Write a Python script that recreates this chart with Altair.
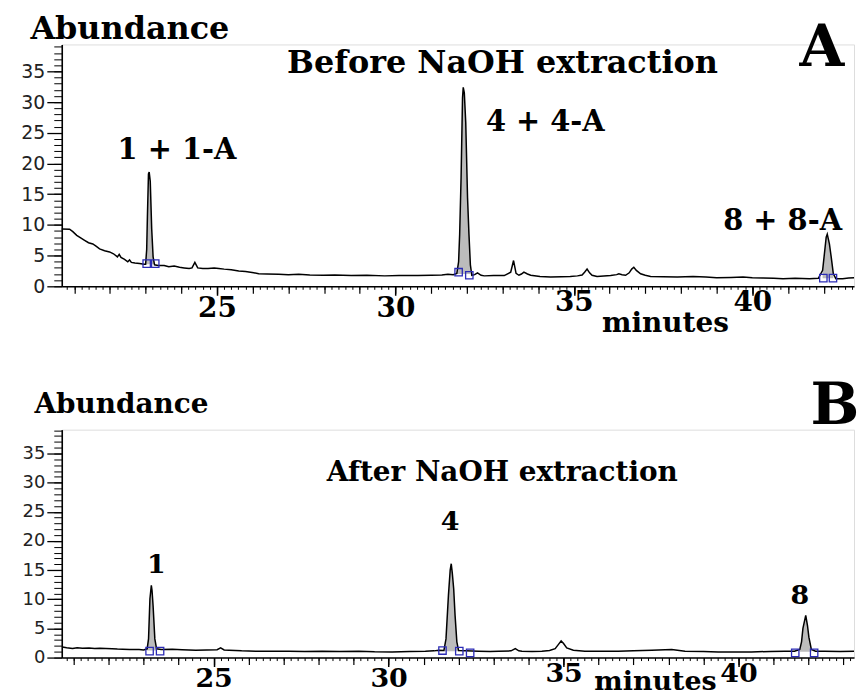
import altair as alt
import pandas as pd

# ---------------- Panel A : Before NaOH extraction ----------------
A_T = [20.65, 20.87, 20.96, 21.07, 21.18, 21.29, 21.40, 21.52, 21.62, 21.71, 21.85, 21.99,
       22.10, 22.21, 22.26, 22.31, 22.41, 22.50, 22.55, 22.60, 22.70, 22.83, 22.96,
       23.00, 23.03, 23.05, 23.08, 23.10, 23.13, 23.17, 23.21, 23.25,
       23.35, 23.52, 23.65, 23.80, 23.95, 24.08, 24.22, 24.30, 24.38, 24.46, 24.60, 24.75,
       24.92, 25.05, 25.20, 25.40, 25.61, 25.80, 26.03, 26.17, 26.40, 26.73, 27.00, 27.29,
       27.60, 27.98, 28.30, 28.76, 29.20, 29.70, 30.10, 30.63, 31.00, 31.30, 31.47, 31.62,
       31.72, 31.77, 31.80, 31.84, 31.88, 31.90, 31.93, 31.97, 32.02, 32.06, 32.10, 32.14,
       32.22, 32.30, 32.40, 32.49, 32.75, 33.05, 33.23, 33.31, 33.38, 33.46, 33.53, 33.60,
       33.70, 33.79, 34.05, 34.35, 34.65, 34.90, 35.10, 35.23, 35.30, 35.37, 35.44, 35.51,
       35.65, 36.03, 36.20, 36.26, 36.35, 36.45, 36.55, 36.62, 36.68, 36.75, 36.87, 37.00,
       37.15, 37.50, 37.90, 38.34, 38.70, 39.00, 39.40, 39.74, 40.00, 40.30, 40.60, 40.86,
       41.20, 41.60, 41.85, 41.97, 42.02, 42.07, 42.10, 42.16, 42.21, 42.27, 42.34,
       42.53, 42.70, 42.85]
A_V = [9.35, 9.3, 8.9, 8.3, 7.9, 7.5, 7.1, 6.9, 6.5, 6.1, 5.8, 5.6,
       5.3, 4.8, 5.2, 4.7, 4.4, 4.0, 4.3, 3.9, 3.8, 3.7, 3.6,
       3.6, 6.0, 11.3, 18.3, 18.6, 17.1, 9.4, 4.8, 3.5,
       3.4, 3.4, 3.2, 3.3, 3.1, 3.0, 2.9, 3.0, 3.9, 3.0, 2.9, 2.9,
       3.0, 2.9, 2.8, 2.7, 2.5, 2.4, 2.2, 2.05, 2.0, 1.95, 1.9, 1.95,
       1.85, 1.8, 1.85, 1.75, 1.8, 1.7, 1.75, 1.75, 1.8, 1.85, 1.95, 1.9,
       2.1, 4.0, 8.5, 17.8, 30.7, 32.4, 31.5, 26.7, 14.5, 8.5, 3.5, 1.8,
       1.9, 2.2, 1.8, 1.7, 1.75, 1.75, 2.3, 4.2, 2.1, 1.8, 2.0, 2.3,
       2.0, 1.8, 1.6, 1.5, 1.55, 1.6, 1.7, 1.85, 2.3, 2.8, 2.2, 1.8,
       1.6, 1.75, 1.9, 2.05, 1.9, 1.8, 2.2, 2.8, 3.1, 2.6, 2.05, 1.8,
       1.6, 1.55, 1.5, 1.6, 1.5, 1.4, 1.45, 1.5, 1.4, 1.35, 1.3, 1.25,
       1.3, 1.25, 1.3, 2.6, 5.3, 8.0, 8.5, 6.9, 4.8, 2.05, 1.25,
       1.25, 1.35, 1.4]
A_PEAK_START = [22.98, 31.70, 41.95]
A_PEAK_END = [23.27, 32.12, 42.30]
A_PEAK_BASE = [3.6, 2.0, 1.3]
A_MARK_T = [23.03, 23.27, 31.77, 32.07, 41.99, 42.26]
A_MARK_V = [3.7, 3.7, 2.3, 1.8, 1.33, 1.33]
A_LABELS = ["1 + 1-A", "4 + 4-A", "8 + 8-A"]
A_LABEL_T = [23.88, 34.2, 40.85]
A_LABEL_V = [22.2, 26.8, 10.6]

# ---------------- Panel B : After NaOH extraction ----------------
B_T = [20.68, 20.80, 20.97, 21.10, 21.25, 21.44, 21.60, 21.75, 21.92, 22.10, 22.25, 22.40,
       22.60, 22.87, 23.00,
       23.10, 23.14, 23.18, 23.22, 23.24, 23.27, 23.32, 23.37,
       23.50, 23.82, 24.10, 24.49, 24.80, 25.10, 25.20, 25.30, 25.44, 25.80, 26.20, 26.60,
       27.15, 27.60, 28.10, 28.60, 29.15, 29.60, 30.10, 30.60, 31.05, 31.30, 31.43,
       31.58, 31.64, 31.71, 31.76, 31.79, 31.82, 31.86, 31.90, 31.95, 32.00,
       32.20, 32.57, 32.90, 33.14, 33.50, 33.62, 33.72, 33.81, 34.10, 34.38, 34.60, 34.76,
       34.86, 34.93, 35.00, 35.09, 35.28, 35.61, 36.18, 36.56, 37.00, 37.52, 38.09, 38.47,
       39.00, 39.42, 40.37, 40.90, 41.32, 41.60,
       41.75, 41.80, 41.84, 41.92, 41.97, 42.01, 42.08,
       42.20, 42.46, 42.90, 43.30]
B_V = [1.83, 1.7, 1.55, 1.7, 1.6, 1.66, 1.55, 1.6, 1.54, 1.5, 1.45, 1.43,
       1.4, 1.37, 1.3,
       1.5, 3.2, 10.1, 12.4, 11.5, 8.9, 3.2, 1.5,
       1.4, 1.43, 1.35, 1.26, 1.3, 1.35, 1.66, 1.3, 1.26, 1.15, 1.09, 1.1,
       1.09, 1.05, 1.09, 1.05, 1.09, 1.0, 0.97, 1.05, 1.09, 1.15, 1.26,
       1.2, 3.2, 10.7, 15.0, 16.1, 14.5, 11.8, 7.2, 2.7, 1.2,
       1.15, 1.09, 1.05, 1.09, 1.15, 1.54, 1.15, 1.09, 1.05, 1.09, 1.2, 1.54,
       2.3, 2.85, 2.4, 1.66, 1.26, 1.09, 1.09, 1.09, 1.15, 1.26, 1.37, 1.09,
       1.05, 0.97, 0.97, 1.05, 1.09, 1.1,
       1.4, 2.7, 5.0, 7.25, 5.5, 3.5, 1.4,
       1.1, 1.09, 1.05, 1.09]
B_PEAK_START = [23.10, 31.56, 41.72]
B_PEAK_END = [23.40, 32.02, 42.10]
B_PEAK_BASE = [1.2, 1.1, 1.0]
B_MARK_T = [23.17, 23.47, 31.54, 32.02, 32.33, 41.62, 42.16]
B_MARK_V = [1.1, 1.1, 1.2, 1.1, 0.8, 0.8, 0.8]
B_LABELS = ["1", "4", "8"]
B_LABEL_T = [23.36, 31.76, 41.75]
B_LABEL_V = [15.9, 23.2, 10.5]

# ---------------- axis tick positions ----------------
X_LABELS_LOW = [25, 30]
X_LABELS_HIGH = [35, 40]
Y_LABELS = [0, 5, 10, 15, 20, 25, 30, 35]

SERIF = "DejaVu Serif"
SANS = "DejaVu Sans"
BLACK = "#000000"


def panel(T, V, pstart, pend, pbase, mt, mv, labs, lt, lv, lab_size,
          title, title_t, title_v, title_size, letter, letter_t, letter_v, letter_size,
          xdom, ydom, w, h, x_lab_size, y_lab_size, abund_size, abund_x, abund_y,
          min_x, min_y, min_size, low_pad, high_pad):
    trace = pd.DataFrame({"t": T, "v": V})
    parts = []
    for i, (s, e, b) in enumerate(zip(pstart, pend, pbase)):
        sub = trace[(trace.t >= s) & (trace.t <= e)].copy()
        sub["base"] = b
        sub["peak"] = i
        parts.append(sub)
    fill = pd.concat(parts)
    marks = pd.DataFrame({"t": mt, "v": mv})
    labels = pd.DataFrame({"t": lt, "v": lv, "txt": labs})
    ttl = pd.DataFrame({"t": [title_t], "v": [title_v], "txt": [title]})
    let = pd.DataFrame({"t": [letter_t], "v": [letter_v], "txt": [letter]})

    xs = alt.Scale(domain=xdom, nice=False, zero=False)
    ys = alt.Scale(domain=ydom, nice=False, zero=False)
    x_mid = [v for v in range(21, 44) if v <= xdom[1]]
    x_minor = [round(20.8 + 0.2 * i, 1) for i in range(200) if 20.8 + 0.2 * i <= xdom[1]]
    y_minor = [v for v in range(0, 40) if v <= ydom[1]]

    ax_x_main = alt.Axis(values=X_LABELS_LOW, tickSize=9, tickWidth=1.5, tickColor=BLACK,
                         domain=True, domainColor=BLACK, domainWidth=1.6,
                         labelFont=SERIF, labelFontWeight="bold", labelFontSize=x_lab_size,
                         labelColor=BLACK, labelPadding=low_pad, grid=False,
                         title="minutes", titleFont=SERIF, titleFontWeight="bold",
                         titleFontSize=min_size, titleColor=BLACK, titleX=min_x, titleY=min_y,
                         titleBaseline="alphabetic", titleAlign="center", orient="bottom")
    ax_x_high = alt.Axis(values=X_LABELS_HIGH, tickSize=9, tickWidth=1.5, tickColor=BLACK,
                         domain=False, labelFont=SERIF, labelFontWeight="bold",
                         labelFontSize=x_lab_size, labelColor=BLACK, labelPadding=high_pad,
                         grid=False, title=None, orient="bottom")
    ax_x_mid = alt.Axis(values=x_mid, tickSize=7, tickWidth=1.2, tickColor=BLACK,
                        domain=False, labels=False, grid=False, title=None, orient="bottom")
    ax_x_minor = alt.Axis(values=x_minor, tickSize=3, tickWidth=1, tickColor=BLACK,
                          domain=False, labels=False, grid=False, title=None, orient="bottom")
    ax_y_main = alt.Axis(values=Y_LABELS, tickSize=15, tickWidth=1.3, tickColor=BLACK,
                         domain=True, domainColor=BLACK, domainWidth=1.6,
                         labelFont=SANS, labelFontSize=y_lab_size, labelColor="#222222",
                         labelPadding=2, grid=False,
                         title="Abundance", titleAngle=0, titleAlign="left",
                         titleBaseline="alphabetic", titleX=abund_x, titleY=abund_y,
                         titleFont=SERIF, titleFontWeight="bold", titleFontSize=abund_size,
                         titleColor=BLACK, orient="left")
    ax_y_minor = alt.Axis(values=y_minor, tickSize=8, tickWidth=1, tickColor=BLACK,
                          domain=False, labels=False, grid=False, title=None, orient="left")

    area = alt.Chart(fill).mark_area(color="#bcbcbc", opacity=1).encode(
        x=alt.X("t:Q", scale=xs, axis=ax_x_main),
        y=alt.Y("v:Q", scale=ys, axis=ax_y_main),
        y2="base:Q",
        detail="peak:N",
    )
    line = alt.Chart(trace).mark_line(color=BLACK, strokeWidth=1.5).encode(
        x=alt.X("t:Q", scale=xs, axis=ax_x_high),
        y=alt.Y("v:Q", scale=ys, axis=ax_y_minor),
    )
    pts = alt.Chart(marks).mark_point(shape="square", filled=False, color="#2b2bb5",
                                      size=55, strokeWidth=1.3, opacity=1).encode(
        x=alt.X("t:Q", scale=xs, axis=ax_x_mid),
        y=alt.Y("v:Q", scale=ys, axis=None),
    )
    txt = alt.Chart(labels).mark_text(font=SERIF, fontWeight="bold", fontSize=lab_size,
                                      color=BLACK, baseline="middle", align="center").encode(
        x=alt.X("t:Q", scale=xs, axis=ax_x_minor),
        y=alt.Y("v:Q", scale=ys, axis=None),
        text="txt:N",
    )
    ttl_m = alt.Chart(ttl).mark_text(font=SERIF, fontWeight="bold", fontSize=title_size,
                                     color=BLACK, baseline="middle", align="center").encode(
        x=alt.X("t:Q", scale=xs, axis=None),
        y=alt.Y("v:Q", scale=ys, axis=None),
        text="txt:N",
    )
    let_m = alt.Chart(let).mark_text(font=SERIF, fontWeight="bold", fontSize=letter_size,
                                     color=BLACK, baseline="middle", align="center").encode(
        x=alt.X("t:Q", scale=xs, axis=None),
        y=alt.Y("v:Q", scale=ys, axis=None),
        text="txt:N",
    )
    return alt.layer(area, line, pts, txt, ttl_m, let_m).resolve_scale(
        x="independent", y="independent").properties(width=w, height=h)


pa = panel(A_T, A_V, A_PEAK_START, A_PEAK_END, A_PEAK_BASE, A_MARK_T, A_MARK_V,
           A_LABELS, A_LABEL_T, A_LABEL_V, 29,
           "Before NaOH extraction", 33.0, 36.3, 32, "A", 41.95, 38.7, 58,
           [20.65, 42.85], [0, 39.4], 796, 243, 28, 19, 32, -32, -6,
           606, 45, 28, -1, -7)
pb = panel(B_T, B_V, B_PEAK_START, B_PEAK_END, B_PEAK_BASE, B_MARK_T, B_MARK_V,
           B_LABELS, B_LABEL_T, B_LABEL_V, 27,
           "After NaOH extraction", 33.25, 31.7, 28, "B", 42.75, 43.0, 58,
           [20.66, 43.3], [0, 39.1], 796, 229, 27, 18, 28, -28, -17,
           596, 32, 27, -1, -6)

chart = alt.vconcat(pa, pb, spacing=39).properties(
    padding={"left": 12, "top": 2, "right": 0, "bottom": 0}
).configure_view(strokeWidth=0).configure(background="white")

chart.save("out.html", embed_options={"renderer": "svg", "actions": False})
